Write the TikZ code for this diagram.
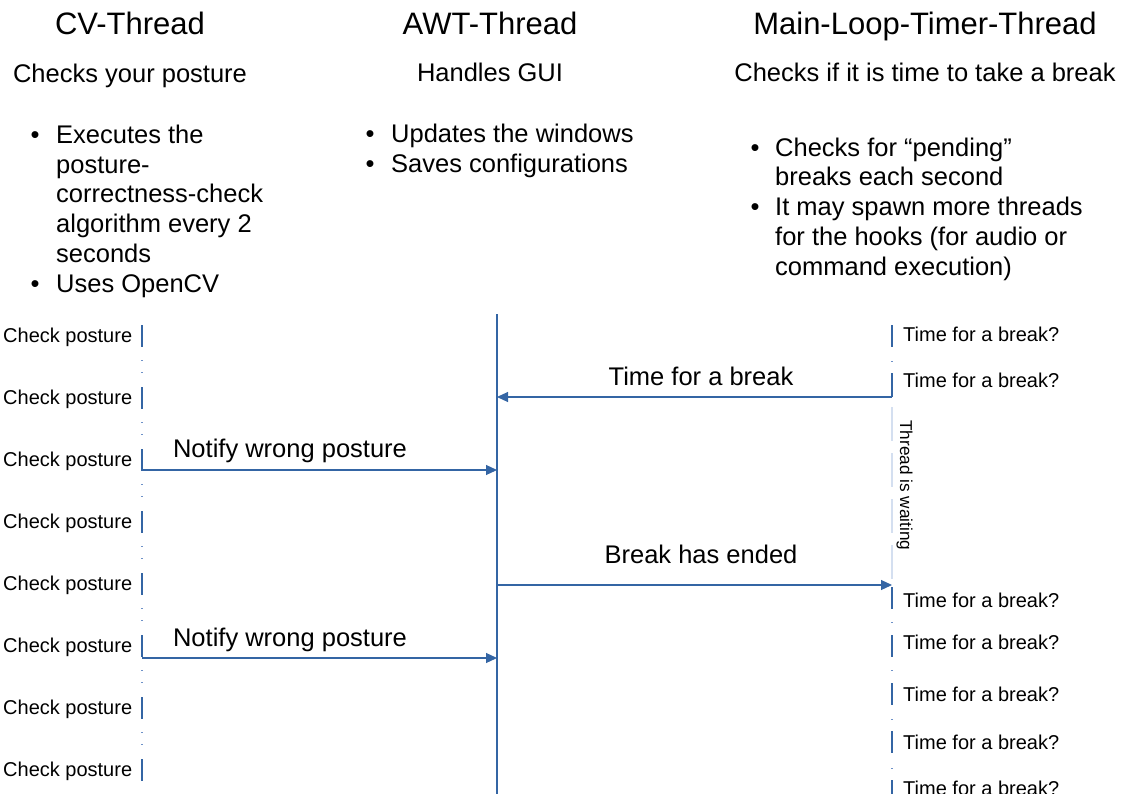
\documentclass[tikz,border=0pt]{standalone}
\usepackage{fontspec}
\setmainfont{Liberation Sans}
\usetikzlibrary{arrows.meta}
\definecolor{lineblue}{RGB}{52,101,164}
\definecolor{dotblue}{RGB}{110,145,200}
\definecolor{waitblue}{RGB}{212,223,240}
\begin{document}
\begin{tikzpicture}[x=1pt,y=-1pt,
  title/.style={font=\fontsize{31}{36}\selectfont, anchor=base, inner sep=0},
  sub/.style={font=\fontsize{25.5}{30}\selectfont, anchor=base, inner sep=0},
  body/.style={font=\fontsize{25.5}{30}\selectfont, anchor=base west, inner sep=0},
  bul/.style={font=\fontsize{25.5}{30}\selectfont, anchor=base, inner sep=0},
  msglabel/.style={font=\fontsize{25.5}{30}\selectfont, anchor=base, inner sep=0},
  small/.style={font=\fontsize{20}{24}\selectfont, anchor=base west, inner sep=0},
  waitlabel/.style={font=\fontsize{17.2}{20}\selectfont, anchor=base west, inner sep=0, rotate=-90},
  msg/.style={draw=lineblue, line width=1.1pt, -{Triangle[length=11pt,width=10pt]}},
  tickline/.style={draw=lineblue, line width=1.2pt},
  dotmark/.style={draw=dotblue, line width=1.2pt},
  waitline/.style={draw=waitblue, line width=1.2pt, dash pattern=on 34pt off 12pt},
  lifeline/.style={draw=lineblue, line width=1.3pt}
]
\useasboundingbox (0,0) rectangle (1123,794);

% ---------- headers ----------
\node[title] (t1) at (130,35) {CV-Thread};
\node[title] (t2) at (490,35) {AWT-Thread};
\node[title] (t3) at (925,35) {Main-Loop-Timer-Thread};

\node[sub] (s1) at (130,83) {Checks your posture};
\node[sub] (s2) at (490,82) {Handles GUI};
\node[sub] (s3) at (925,82) {Checks if it is time to take a break};

% ---------- left bullets ----------
\node[bul] (lb1) at (35,144) {•};
\node[body] (l1) at (56,144) {Executes the};
\node[body] (l2) at (56,174) {posture-};
\node[body] (l3) at (56,203) {correctness-check};
\node[body] (l4) at (56,233) {algorithm every 2};
\node[body] (l5) at (56,262) {seconds};
\node[bul] (lb2) at (35,292) {•};
\node[body] (l6) at (56,292) {Uses OpenCV};

% ---------- middle bullets ----------
\node[bul] (mb1) at (370,143) {•};
\node[body] (m1) at (391,143) {Updates the windows};
\node[bul] (mb2) at (370,173) {•};
\node[body] (m2) at (391,173) {Saves configurations};

% ---------- right bullets ----------
\node[bul] (rb1) at (755,157) {•};
\node[body] (r1) at (775,157) {Checks for “pending”};
\node[body] (r2) at (775,186) {breaks each second};
\node[bul] (rb2) at (755,216) {•};
\node[body] (r3) at (775,216) {It may spawn more threads};
\node[body] (r4) at (775,245) {for the hooks (for audio or};
\node[body] (r5) at (775,275) {command execution)};

% ---------- AWT lifeline ----------
\coordinate (awtTop) at (497,314);
\coordinate (awtBot) at (497,794);
\draw[lifeline] (awtTop) -- (awtBot);

% ---------- CV lifeline ----------
\foreach \k in {0,...,7}{
  \pgfmathsetmacro{\ty}{325+62*\k}
  \pgfmathsetmacro{\by}{347+62*\k}
  \pgfmathsetmacro{\bl}{342+62*\k}
  \draw[tickline] (142,\ty) -- (142,\by);
  \node[small] (cp\k) at (3,\bl) {Check posture};
}
\foreach \k in {0,...,6}{
  \pgfmathsetmacro{\da}{360+62*\k}
  \pgfmathsetmacro{\db}{372+62*\k}
  \draw[dotmark] (142,\da) -- (142,\da+1.4);
  \draw[dotmark] (142,\db) -- (142,\db+1.4);
}

% ---------- Main-loop lifeline ----------
\foreach \a/\b in {325/347, 373/397, 587/609, 635/657, 683/705, 731/753, 780/794}{
  \draw[tickline] (892,\a) -- (892,\b);
}
\foreach \d in {361, 622, 670, 719, 768}{
  \draw[dotmark] (892,\d) -- (892,\d+1.4);
}
\draw[waitline] (892,407) -- (892,582);
\node[waitlabel] (wait) at (900,420) {Thread is waiting};

\foreach \n/\y in {1/341, 2/387, 3/607, 4/649, 5/701, 6/749, 7/795}{
  \node[small] (tb\n) at (903,\y) {Time for a break?};
}

% ---------- messages ----------
\coordinate (mtA) at (892,397);
\coordinate (awtA) at (497,397);
\draw[msg] (mtA) -- (awtA);
\node[msglabel] (lblA) at (701,385) {Time for a break};

\coordinate (cvB) at (142,470);
\coordinate (awtB) at (497,470);
\draw[msg] (cvB) -- (awtB);
\node[msglabel] (lblB) at (290,457) {Notify wrong posture};

\coordinate (awtC) at (497,585);
\coordinate (mtC) at (892,585);
\draw[msg] (awtC) -- (mtC);
\node[msglabel] (lblC) at (701,563) {Break has ended};

\coordinate (cvD) at (142,658);
\coordinate (awtD) at (497,658);
\draw[msg] (cvD) -- (awtD);
\node[msglabel] (lblD) at (290,646) {Notify wrong posture};
\end{tikzpicture}
\end{document}
